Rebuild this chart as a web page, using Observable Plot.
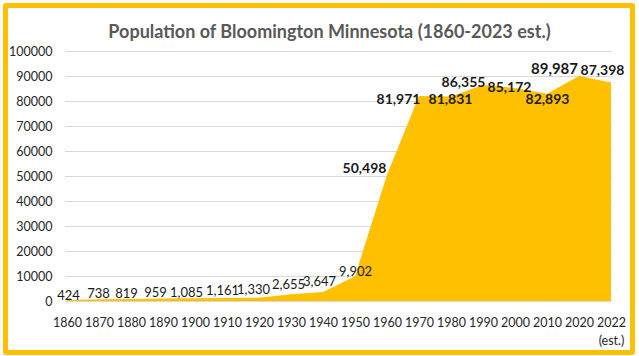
<!DOCTYPE html>
<html>
<head>
<meta charset="utf-8">
<script src="https://cdn.jsdelivr.net/npm/d3@7"></script>
<script src="https://cdn.jsdelivr.net/npm/@observablehq/plot@0.6"></script>
<style>
  html, body { margin: 0; padding: 0; background: #fff; }
  #wrap { position: relative; width: 639px; height: 356px; overflow: hidden; font-family: Lato, "Open Sans", sans-serif; }
  #frame { position: absolute; left: 3px; top: 3px; width: 622px; height: 342px; border: 5px solid #FFC000; border-radius: 3px; }
  #title { position: absolute; left: 0; width: 659px; top: 20px; text-align: center; font-size: 18px; font-weight: bold; color: #595959; }
  #chart { position: absolute; left: 0; top: 0; }
</style>
</head>
<body>
<div id="wrap">
  <div id="chart"></div>
  <div id="frame"></div>
  <div id="title">Population of Bloomington Minnesota (1860-2023 est.)</div>
</div>
<script>
const years = ["1860","1870","1880","1890","1900","1910","1920","1930","1940","1950","1960","1970","1980","1990","2000","2010","2020","2022"];
const population = [424,738,819,959,1085,1161,1330,2655,3647,9902,50498,81971,81831,86355,85172,82893,89987,87398];
const yTicks = [0,10000,20000,30000,40000,50000,60000,70000,80000,90000,100000];
const estLabel = "(est.)";

// label offsets (pixels) and text sizes for data labels
const labelDx = [1,-1,-5,-8,-9,-5,-6,-3,-4,0,-23,-21,-1,-20,-6,0,-25,-9];
const labelDy = [-5,-6,-6,-6,-6,-8,-8,-10,-11,-5,-7,3,3,-3,-1,5,-7,-12];
const labelSize = [13,13,13,13,13,13,13,13,13,13,14,14,14,14,14,14,15,14];
const labelBold = [false,false,false,false,false,false,false,false,false,false,true,true,true,true,true,true,true,true];

const data = years.map((y, i) => ({year: y, value: population[i], i}));
const fmt = d3.format(",");

const labelMarks = data.map((d, i) => Plot.text([d], {
  x: "year", y: "value", text: d => fmt(d.value),
  dx: labelDx[i], dy: labelDy[i],
  fontSize: labelSize[i], fontWeight: labelBold[i] ? "bold" : "normal",
  fill: "#1a1a1a"
}));

const chart = Plot.plot({
  width: 639,
  height: 356,
  marginLeft: 65,
  marginRight: 27,
  marginTop: 51,
  marginBottom: 55,
  style: {fontFamily: "Lato, 'Open Sans', sans-serif", fontSize: "12px", color: "#262626", background: "transparent"},
  x: {type: "point", domain: years, padding: 0, label: null},
  y: {domain: [0, 100000], label: null},
  marks: [
    Plot.gridY(yTicks, {stroke: "#d9d9d9", strokeOpacity: 1}),
    Plot.areaY(data, {x: "year", y: "value", fill: "#FFC000"}),
    Plot.axisY(yTicks, {label: null, tickSize: 0, tickPadding: 13, tickFormat: d => String(d), fontSize: 12.5, fill: "#262626"}),
    Plot.axisX(years, {label: null, tickSize: 0, tickPadding: 13, fontSize: 12.5, lineHeight: 1.45, fill: "#262626",
      tickFormat: d => d === "2022" ? "2022\n" + estLabel : d}),
    ...labelMarks
  ]
});
document.getElementById("chart").appendChild(chart);
</script>
</body>
</html>
